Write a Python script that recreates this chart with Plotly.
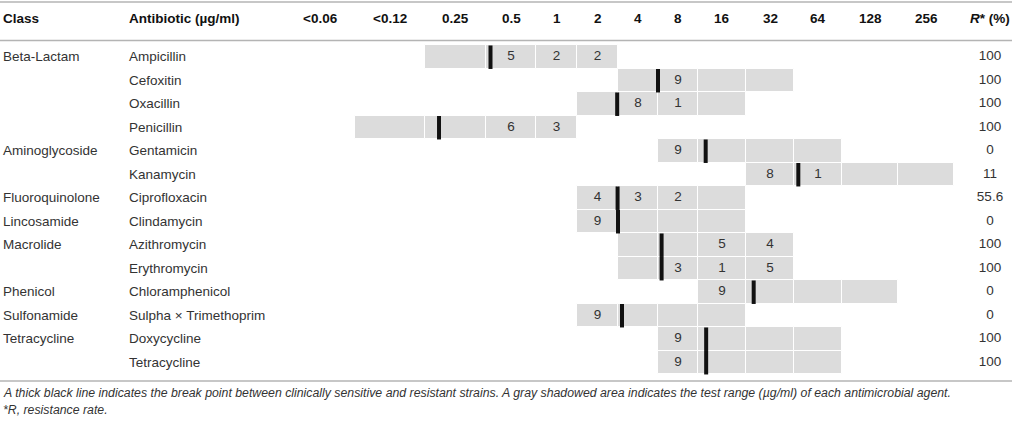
import plotly.graph_objects as go

# MIC columns of the table
mic_labels = ["<0.06", "<0.12", "0.25", "0.5", "1", "2", "4", "8",
              "16", "32", "64", "128", "256"]

classes = ["Beta-Lactam", "", "", "", "Aminoglycoside", "", "Fluoroquinolone",
           "Lincosamide", "Macrolide", "", "Phenicol", "Sulfonamide",
           "Tetracycline", ""]
antibiotics = ["Ampicillin", "Cefoxitin", "Oxacillin", "Penicillin",
               "Gentamicin", "Kanamycin", "Ciprofloxacin", "Clindamycin",
               "Azithromycin", "Erythromycin", "Chloramphenicol",
               "Sulpha \u00d7 Trimethoprim", "Doxycycline", "Tetracycline"]

# tested range (lowest and highest MIC column)
range_low = ["0.25", "4", "2", "<0.12", "8", "32", "2", "2", "4", "4", "16", "2", "8", "8"]
range_high = ["2", "32", "16", "1", "64", "256", "16", "16", "32", "32", "128", "16", "64", "64"]

# number of strains at each MIC
counts = [
    {"0.5": 5, "1": 2, "2": 2},
    {"8": 9},
    {"4": 8, "8": 1},
    {"0.5": 6, "1": 3},
    {"8": 9},
    {"32": 8, "64": 1},
    {"2": 4, "4": 3, "8": 2},
    {"2": 9},
    {"16": 5, "32": 4},
    {"8": 3, "16": 1, "32": 5},
    {"16": 9},
    {"2": 9},
    {"8": 9},
    {"8": 9},
]

# breakpoint, in MIC column units (column index + fraction)
breakpoints = [3.09, 7.0, 5.98, 2.23, 8.16, 10.09, 5.99, 6.0, 7.09, 7.09,
               9.16, 6.1, 8.17, 8.17]

resist_rate = ["100", "100", "100", "100", "0", "11", "55.6", "0", "100",
               "100", "0", "0", "100", "100"]

# table layout (pixels)
GRID_LEFT = 285
COL_W = [70, 70, 61, 50, 41, 41, 40, 40, 48, 48, 48, 56, 56]
edges = [GRID_LEFT]
for w in COL_W:
    edges.append(edges[-1] + w)

FONT = "Liberation Sans, Arial, sans-serif"
GRAY = "#dcdcdc"
TXT = "#333333"


def col_x(pos):
    i = int(pos)
    return edges[i] + (pos - i) * COL_W[i]


fig = go.Figure()

# gray test-range cells
bx, bw, by = [], [], []
for r in range(len(antibiotics)):
    lo = mic_labels.index(range_low[r])
    hi = mic_labels.index(range_high[r])
    for c in range(lo, hi + 1):
        bx.append(edges[c])
        bw.append(COL_W[c])
        by.append(r)
fig.add_trace(go.Bar(
    orientation="h", y=by, x=bw, base=bx, width=1,
    marker=dict(color=GRAY, line=dict(color="white", width=1)),
    hoverinfo="skip", showlegend=False,
))

# counts inside cells
tx, ty, tt = [], [], []
for r, row in enumerate(counts):
    for lab, n in row.items():
        c = mic_labels.index(lab)
        tx.append(edges[c] + COL_W[c] / 2)
        ty.append(r)
        tt.append(str(n))
fig.add_trace(go.Scatter(
    x=tx, y=ty, text=tt, mode="text",
    textfont=dict(family=FONT, size=13.5, color=TXT),
    hoverinfo="skip", showlegend=False,
))

# breakpoint lines
lx, ly = [], []
for r, bp in enumerate(breakpoints):
    x = col_x(bp)
    lx += [x, x, None]
    ly += [r - 0.48, r + 0.52, None]
fig.add_trace(go.Scatter(
    x=lx, y=ly, mode="lines", line=dict(color="#111111", width=4),
    hoverinfo="skip", showlegend=False,
))

# R column
fig.add_trace(go.Scatter(
    x=[990] * len(resist_rate), y=list(range(len(resist_rate))),
    text=resist_rate, mode="text",
    textfont=dict(family=FONT, size=13.5, color=TXT),
    hoverinfo="skip", showlegend=False,
))

ann = []
HEAD_Y = -1.61
ann.append(dict(x=1, y=HEAD_Y, text="<b>Class</b>", xanchor="left"))
ann.append(dict(x=127, y=HEAD_Y, text="<b>Antibiotic (\u00b5g/ml)</b>", xanchor="left"))
for c, lab in enumerate(mic_labels):
    ann.append(dict(x=edges[c] + COL_W[c] / 2, y=HEAD_Y, text="<b>" + lab + "</b>",
                    xanchor="center"))
ann.append(dict(x=990, y=HEAD_Y, text="<b><i>R</i>* (%)</b>", xanchor="center"))
for a in ann:
    a.update(xref="x", yref="y", showarrow=False, yanchor="middle",
             font=dict(family=FONT, size=13.5, color="#111111"))

for r in range(len(antibiotics)):
    for x, t in ((1, classes[r]), (127, antibiotics[r])):
        if t:
            ann.append(dict(x=x, y=r, text=t, xref="x", yref="y", xanchor="left",
                            yanchor="middle", showarrow=False,
                            font=dict(family=FONT, size=13.5, color=TXT)))

notes = [
    "A thick black line indicates the break point between clinically sensitive and "
    "resistant strains. A gray shadowed area indicates the test range (\u00b5g/ml) of "
    "each antimicrobial agent.",
    "*R, resistance rate.",
]
for i, t in enumerate(notes):
    ann.append(dict(x=1, y=14.31 + 0.72 * i, text="<i>" + t + "</i>", xref="x", yref="y",
                    xanchor="left", yanchor="middle", showarrow=False,
                    font=dict(family=FONT, size=12.3, color=TXT)))

shapes = []
for yy in (-2.33, -0.69, 13.80):
    shapes.append(dict(type="line", xref="paper", yref="y", x0=0, x1=1, y0=yy, y1=yy,
                       line=dict(color="#b4b4b4", width=1.5)))

fig.update_layout(
    width=1012, height=421,
    margin=dict(l=0, r=0, t=0, b=0),
    paper_bgcolor="white", plot_bgcolor="white",
    xaxis=dict(range=[0, 1012], visible=False, fixedrange=True),
    yaxis=dict(range=[15.50, -2.415], visible=False, fixedrange=True),
    annotations=ann, shapes=shapes,
    bargap=0,
)

# page has a default 8px body margin; drop it so the figure sits at the corner
fig.write_html("out.html", config={"displayModeBar": False},
               post_script="document.body.style.margin = '0';")
